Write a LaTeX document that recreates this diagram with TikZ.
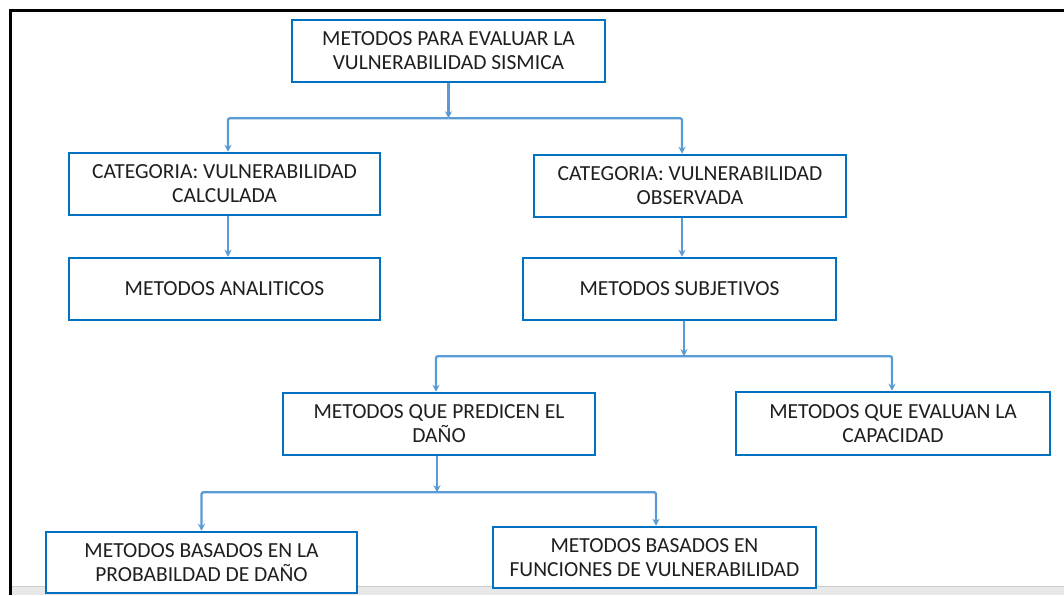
\documentclass[tikz,border=0pt]{standalone}
\usepackage{fontspec}
\setmainfont{Carlito}
\usepackage{xcolor}
\usetikzlibrary{arrows.meta}
\usetikzlibrary{positioning}
\definecolor{boxblue}{HTML}{0070C0}
\definecolor{linkblue}{HTML}{5B9BD5}
\definecolor{txtgray}{HTML}{1F1F1F}
\tikzset{
  metodo/.style = {draw=boxblue, line width=2.5pt, fill=white, align=center, inner sep=0pt,
    minimum width=312pt, minimum height=62pt, text=txtgray, font=\fontsize{21.5}{24}\selectfont},
  enlace/.style = {draw=linkblue, line width=2.3pt, rounded corners=2pt, -{Stealth[length=7pt,width=7pt]}},
  marco/.style = {draw=black, line width=2.2pt}
}

\begin{document}
\begin{tikzpicture}[x=1pt,y=-1pt]
  \useasboundingbox (0,0) rectangle (1064,595);

  % frame and bottom band
  \fill[gray!18] (11.5,586) rectangle (1064,595);
  \draw[gray!40, line width=1pt] (11.5,586) -- (1064,586);
  \draw[marco] (10.5,595) -- (10.5,10.5) -- (1064,10.5);

  \node[metodo, minimum width=313pt] (raiz) at (448.5,51) {METODOS PARA EVALUAR LA\\VULNERABILIDAD SISMICA};
  \node[metodo, minimum width=311pt] (calc) at (224.5,184) {CATEGORIA: VULNERABILIDAD\\CALCULADA};
  \node[metodo] (obs) at (690,186) {CATEGORIA: VULNERABILIDAD\\OBSERVADA};
  \node[metodo, minimum width=311pt] (anal) at (224.5,289) {METODOS ANALITICOS};
  \node[metodo, minimum width=313pt] (subj) at (679.5,289) {METODOS SUBJETIVOS};
  \node[metodo] (pred) at (439,424) {METODOS QUE PREDICEN EL\\DAÑO};
  \node[metodo, minimum width=314pt, minimum height=63pt] (capa) at (893,423.5) {METODOS QUE EVALUAN LA\\CAPACIDAD};
  \node[metodo, minimum width=311pt, minimum height=61pt] (prob) at (201.5,562.5) {METODOS BASADOS EN LA\\PROBABILDAD DE DAÑO};
  \node[metodo, minimum width=323pt, minimum height=61pt] (func) at (654.5,557.5) {METODOS BASADOS EN\\FUNCIONES DE VULNERABILIDAD};

  % connectors
  \coordinate (b1) at ([yshift=-35pt]raiz.south);
  \draw[enlace] (raiz.south) -- (b1);
  \draw[enlace] (b1) -| ([xshift=3.5pt]calc.north);
  \draw[enlace] (b1) -| ([xshift=-8pt]obs.north);

  \draw[enlace] ([xshift=3.5pt]calc.south) -- ([xshift=3.5pt]anal.north);
  \draw[enlace] ([xshift=-8pt]obs.south) -- ([xshift=2.5pt]subj.north);

  \coordinate (b2) at ([xshift=4.5pt,yshift=-35pt]subj.south);
  \draw[enlace] ([xshift=4.5pt]subj.south) -- (b2);
  \draw[enlace] (b2) -| ([xshift=-3pt]pred.north);
  \draw[enlace] (b2) -| ([xshift=-1pt]capa.north);

  \coordinate (b3) at ([xshift=-2pt,yshift=-36pt]pred.south);
  \draw[enlace] ([xshift=-2pt]pred.south) -- (b3);
  \draw[enlace] (b3) -| (prob.north);
  \draw[enlace] (b3) -| ([xshift=1.5pt]func.north);
\end{tikzpicture}
\end{document}
